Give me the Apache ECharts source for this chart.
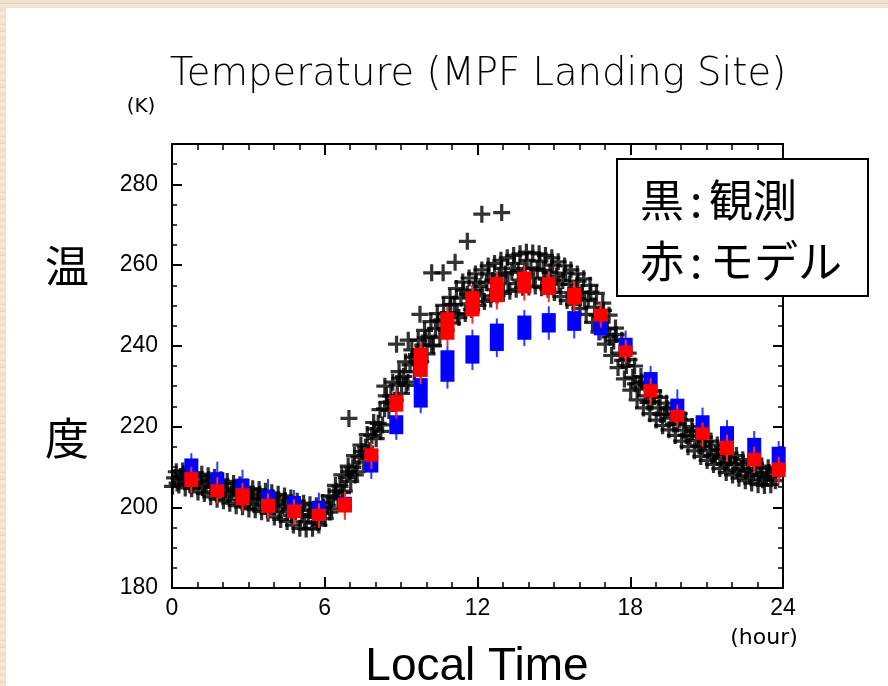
<!DOCTYPE html>
<html><head><meta charset="utf-8">
<script src="https://cdn.jsdelivr.net/npm/echarts@6/dist/echarts.min.js"></script>
<style>
html,body{margin:0;padding:0;width:888px;height:686px;overflow:hidden;
background:#f1e5cf repeating-linear-gradient(0deg,#f3e8d3 0px,#f3e8d3 3px,#e8d3c4 3px,#e8d3c4 4px,#f0e2cb 4px,#f0e2cb 7px);}
#panel{position:absolute;left:6px;top:8px;right:0;bottom:0;background:#fff;}
#chart{position:absolute;left:0;top:0;width:888px;height:686px;}
</style></head><body><div id="panel"></div><div id="chart"></div>
<script>
// ---- data ----
const xTicks = [0, 6, 12, 18, 24];
const yTicks = [180, 200, 220, 240, 260, 280];

// observed temperatures (black +): [local time (hour), K]
const observed = [
[0.02,205.2],[0.1,207.3],[0.17,208.8],[0.27,205.5],[0.33,207.6],[0.42,209.0],
[0.52,204.8],[0.58,206.9],[0.66,208.4],[0.77,204.6],[0.85,206.2],[0.92,208.6],
[1.02,203.8],[1.1,206.4],[1.17,208.2],[1.27,203.4],[1.34,205.9],[1.42,207.8],
[1.52,202.6],[1.6,205.3],[1.67,207.4],[1.77,202.0],[1.85,204.9],[1.92,206.8],
[2.02,201.6],[2.1,204.2],[2.17,206.4],[2.27,201.0],[2.35,203.8],[2.42,205.9],
[2.52,200.4],[2.6,203.4],[2.67,205.6],[2.77,200.1],[2.85,202.8],[2.92,205.0],
[3.02,199.6],[3.1,202.3],[3.17,204.6],[3.27,199.4],[3.35,202.1],[3.42,204.4],
[3.52,198.9],[3.6,201.8],[3.67,204.0],[3.77,198.5],[3.85,201.4],[3.92,203.6],
[4.02,197.6],[4.1,200.8],[4.17,203.2],[4.27,197.0],[4.35,200.3],[4.42,202.8],
[4.52,196.5],[4.6,199.6],[4.67,202.3],[4.77,195.6],[4.85,198.9],[4.92,201.5],
[5.02,194.8],[5.1,198.2],[5.17,201.0],[5.27,194.6],[5.35,197.8],[5.42,200.6],
[5.52,194.8],[5.6,197.6],[5.67,200.4],[5.77,195.6],[5.85,198.4],[5.92,201.2],
[6.02,197.2],[6.1,200.4],[6.17,202.8],[6.27,199.6],[6.35,202.6],[6.42,205.4],
[6.52,202.0],[6.6,205.2],[6.67,208.0],[6.77,204.0],[6.85,207.4],[6.92,210.2],
[7.02,206.4],[7.1,209.8],[7.17,212.8],[7.27,208.8],[7.35,212.4],[7.42,215.4],
[7.52,211.2],[7.6,214.9],[7.67,218.0],[7.77,214.0],[7.85,217.8],[7.92,221.0],
[8.02,217.0],[8.1,220.8],[8.17,224.2],[8.27,220.4],[8.35,224.4],[8.42,227.6],
[8.52,224.0],[8.6,227.6],[8.67,231.0],[8.77,226.4],[8.85,230.3],[8.92,233.6],
[9.02,228.2],[9.1,232.4],[9.17,236.0],[9.27,231.0],[9.35,235.3],[9.42,239.0],
[9.52,233.6],[9.6,237.8],[9.67,241.4],[9.77,236.0],[9.85,240.2],[9.92,243.8],
[10.02,238.0],[10.1,242.4],[10.17,246.0],[10.27,240.0],[10.35,244.3],[10.42,248.0],
[10.52,242.0],[10.6,246.4],[10.67,250.0],[10.77,243.8],[10.85,248.2],[10.92,252.0],
[11.02,245.6],[11.1,250.3],[11.17,254.2],[11.27,247.0],[11.35,251.8],[11.42,255.8],
[11.52,248.0],[11.6,252.8],[11.67,256.8],[11.77,249.0],[11.85,253.7],[11.92,257.8],
[12.02,250.0],[12.1,254.7],[12.17,258.8],[12.27,251.0],[12.35,255.6],[12.42,259.8],
[12.52,251.6],[12.6,256.2],[12.67,260.4],[12.77,252.5],[12.85,257.3],[12.92,261.2],
[13.02,253.0],[13.1,257.8],[13.17,261.8],[13.27,253.5],[13.35,258.2],[13.42,262.4],
[13.52,254.0],[13.6,258.6],[13.67,262.8],[13.77,254.5],[13.85,259.1],[13.92,263.2],
[14.02,254.6],[14.1,259.3],[14.17,263.0],[14.27,254.8],[14.35,259.0],[14.42,262.8],
[14.52,254.4],[14.6,258.7],[14.67,262.4],[14.77,254.0],[14.85,258.2],[14.92,261.8],
[15.02,253.2],[15.1,257.3],[15.17,260.8],[15.27,252.2],[15.35,256.2],[15.42,259.8],
[15.52,251.2],[15.6,255.3],[15.67,258.8],[15.77,250.2],[15.85,254.1],[15.92,257.8],
[16.02,249.2],[16.1,253.2],[16.17,256.6],[16.27,247.8],[16.35,251.6],[16.42,255.0],
[16.52,245.8],[16.6,249.6],[16.67,253.0],[16.77,243.4],[16.85,247.2],[16.92,250.6],
[17.02,240.4],[17.1,244.2],[17.17,247.6],[17.27,237.6],[17.35,241.2],[17.42,244.4],
[17.52,234.6],[17.6,238.2],[17.67,241.4],[17.77,231.8],[17.85,235.1],[17.92,238.2],
[18.02,229.0],[18.1,232.2],[18.17,235.0],[18.27,226.6],[18.35,229.6],[18.42,232.4],
[18.52,224.6],[18.6,227.6],[18.67,230.4],[18.77,223.2],[18.85,226.1],[18.92,228.8],
[19.02,221.6],[19.1,224.6],[19.17,227.2],[19.27,220.2],[19.35,223.1],[19.42,225.8],
[19.52,219.2],[19.6,222.1],[19.67,224.8],[19.77,217.8],[19.85,220.6],[19.92,223.2],
[20.02,216.4],[20.1,219.1],[20.17,221.6],[20.27,215.0],[20.35,217.6],[20.42,220.0],
[20.52,214.0],[20.6,216.6],[20.67,219.0],[20.77,212.6],[20.85,215.1],[20.92,217.4],
[21.02,211.6],[21.1,214.1],[21.17,216.4],[21.27,210.6],[21.35,213.1],[21.42,215.4],
[21.52,209.6],[21.6,212.1],[21.67,214.4],[21.77,208.6],[21.85,211.1],[21.92,213.4],
[22.02,208.0],[22.1,210.6],[22.17,212.8],[22.27,207.2],[22.35,209.6],[22.42,211.8],
[22.52,206.6],[22.6,209.1],[22.67,211.2],[22.77,206.0],[22.85,208.6],[22.92,210.8],
[23.02,205.6],[23.1,208.1],[23.17,210.2],[23.27,205.4],[23.35,207.6],[23.42,209.8],
[23.52,205.6],[23.58,207.6],[23.65,209.4],
[0.2,206.0],[0.45,208.2],[0.7,205.6],[0.95,207.5],[1.2,204.9],[1.45,206.8],
[1.7,203.8],[1.95,205.8],[2.2,202.8],[2.45,204.8],[2.7,201.8],[2.95,203.8],
[3.2,200.8],[3.45,203.2],[3.7,200.2],[3.95,202.3],[4.2,199.0],[4.45,201.6],
[4.7,198.0],[4.95,200.0],[5.2,196.4],[5.45,199.2],[5.7,196.2],[5.95,200.0],
[6.2,198.8],[6.45,204.0],[6.7,203.6],[6.95,208.8],[7.2,208.0],[7.45,213.8],
[7.7,213.0],[7.95,219.4],[8.2,218.8],[8.45,226.0],[8.7,225.8],[8.95,232.0],
[9.2,230.2],[9.45,237.2],[9.7,235.6],[9.95,242.0],[10.2,240.2],[10.45,246.2],
[10.7,244.2],[10.95,250.2],[11.2,247.8],[11.45,253.8],[11.7,250.4],[11.95,255.8],
[12.2,252.4],[12.45,257.8],[12.7,253.9],[12.95,259.2],[13.2,255.4],[13.45,260.4],
[13.7,256.3],[13.95,261.2],[14.2,256.8],[14.45,261.0],[14.7,256.5],[14.95,260.0],
[15.2,255.2],[15.45,258.0],[15.7,253.2],[15.95,256.0],[16.2,251.2],[16.45,253.3],
[16.7,247.6],[16.95,248.8],[17.2,242.2],[17.45,242.8],[17.7,236.4],[17.95,236.6],
[18.2,230.6],[18.45,231.0],[18.7,226.0],[18.95,227.4],[19.2,223.0],[19.45,224.4],
[19.7,220.6],[19.95,221.8],[20.2,217.8],[20.45,218.8],[20.7,215.2],[20.95,216.2],
[21.2,212.8],[21.45,214.2],[21.7,210.8],[21.95,212.2],[22.2,209.2],[22.45,210.6],
[22.7,207.8],[22.95,209.6],[23.2,206.8],[23.45,208.6],[23.7,206.6],
// isolated readings
[6.95,222.0],[8.36,230.0],[8.82,240.4],[9.28,241.4],[9.74,247.8],[10.2,258.1],
[10.65,258.1],[11.12,260.7],[11.6,265.9],[12.17,272.6],[12.95,273.0]
];

// model outputs, one box per hour
const modelHours = [0.76,1.78,2.77,3.77,4.79,5.77,6.79,7.83,8.81,9.77,10.82,11.8,12.76,13.84,14.8,15.8,16.84,17.82,18.8,19.85,20.84,21.8,22.87,23.83];
const blueLow  = [206,204,203,200,198.5,197.5,199,208.6,218.1,224.7,231.1,235.6,238.7,241.5,243.3,243.7,242.6,238,228.5,222,218,214,211,209];
const blueHigh = [212.1,208.7,207.1,204.3,202.8,201.6,202.6,213,222.8,232.0,238.9,242.6,245.5,247.5,248.1,248.6,247.5,242.0,233.5,226.9,222.8,220.1,217.2,215.0];
const blueMin  = [205,203,202,199,197.5,196.5,198,207.0,216.7,223.3,229.4,234.0,237.2,239.9,241.5,241.8,241.4,237,227.5,221,217,213,210,208];
const blueMax  = [213.4,211.3,209.3,207.0,204.3,203.6,203.2,214,224,233,240,244,246.8,248.9,249.8,249.5,248,243.8,235.0,229.2,224.7,221.6,218.9,216.4];
const redLow   = [205.0,202.5,200.5,198.6,197.3,196.6,198.7,211.3,223.7,232.3,241.5,247.3,250.8,253.0,252.6,250.2,246.0,237.2,227.2,221.2,216.7,212.9,210.1,207.5];
const redHigh  = [208.7,205.7,204.7,202.1,200.7,199.6,202.4,214.6,227.8,239.5,248.3,253.5,257.0,258.4,257.0,254.4,249.2,240.1,230.5,224.1,219.8,216.5,213.5,211.1];
const redMin   = [203.5,201.0,199.0,197.2,195.7,194.9,196.9,209.5,222,230.5,240,245.5,249,251.2,250.8,248.5,244.5,235.8,225.5,219.8,215.0,211.3,208.5,205.9];
const redMax   = [210,207.5,206,203.5,202,201,203.9,216.0,229.2,240.9,249.8,255,258.4,259.9,258.5,256.0,250.8,241.5,232,225.5,221,218,215,212.5];

// ---- build ----
const zip = (lo, hi, mn, mx) => modelHours.map((h, i) => [h, lo[i], hi[i], mn[i], mx[i]]);
const blueData = zip(blueLow, blueHigh, blueMin, blueMax);
const redData = zip(redLow, redHigh, redMin, redMax);

function boxRenderer(fill, whisker) {
  return function (params, api) {
    const x = api.value(0);
    const top = api.coord([x, api.value(2)]);
    const bot = api.coord([x, api.value(1)]);
    const wTop = api.coord([x, api.value(4)]);
    const wBot = api.coord([x, api.value(3)]);
    const half = api.size([0.55, 0])[0] / 2;
    return {
      type: 'group',
      children: [
        { type: 'line', shape: { x1: wTop[0], y1: wTop[1], x2: wBot[0], y2: wBot[1] },
          style: { stroke: whisker, lineWidth: 2 } },
        { type: 'rect', shape: { x: top[0] - half, y: top[1], width: half * 2, height: bot[1] - top[1] },
          style: { fill: fill } }
      ]
    };
  };
}

const thin = "'DejaVu Sans ExtraLight','DejaVu Sans',sans-serif";
const cjk = "'Noto Sans CJK JP','Noto Sans CJK SC',sans-serif";
const plusPath = 'path://M0,4.05H4.05V0H5.95V4.05H10V5.95H5.95V10H4.05V5.95H0Z';

const axisLine = { show: true, onZero: false, lineStyle: { color: '#000', width: 2 } };
const xCommon = {
  type: 'value', min: 0, max: 24, interval: 6,
  axisLine: axisLine,
  axisTick: { show: true, inside: true, length: 11, lineStyle: { color: '#000', width: 2 } },
  minorTick: { show: true, splitNumber: 6, length: 6, lineStyle: { color: '#000', width: 1.5 } },
  splitLine: { show: false }, minorSplitLine: { show: false }
};
function yAxisDef(pos, step, len, labels) {
  return {
    type: 'value', min: 180, max: 290, interval: step, position: pos,
    axisLine: axisLine,
    axisTick: { show: true, inside: true, length: len, lineStyle: { color: '#000', width: step === 20 ? 2 : 1.5 } },
    splitLine: { show: false },
    axisLabel: labels ? {
      show: true, color: '#000', fontSize: 23, fontFamily: "'Liberation Sans',Arial,sans-serif", margin: 14,
      formatter: v => (yTicks.indexOf(v) >= 0 ? String(v) : '')
    } : { show: false }
  };
}

const chart = echarts.init(document.getElementById('chart'));
chart.setOption({
  backgroundColor: 'transparent',
  animation: false,
  title: {
    text: 'Temperature (MPF Landing Site)',
    left: 473, top: 50, textAlign: 'center',
    textStyle: { fontFamily: thin, fontWeight: 200, fontSize: 38.6, color: '#000' }
  },
  grid: { left: 172, top: 144, width: 611, height: 444, outerBoundsMode: 'none' },
  xAxis: [
    Object.assign({}, xCommon, { position: 'bottom',
      axisLabel: { show: true, color: '#000', fontSize: 23, margin: 9,
        fontFamily: "'Liberation Sans Narrow','Liberation Sans',Arial,sans-serif",
        formatter: v => (xTicks.indexOf(v) >= 0 ? String(v) : '') } }),
    Object.assign({}, xCommon, { position: 'top', axisLabel: { show: false } })
  ],
  yAxis: [
    yAxisDef('left', 5, 5, false),
    yAxisDef('left', 20, 10, true),
    yAxisDef('right', 5, 5, false),
    yAxisDef('right', 20, 10, false)
  ],
  series: [
    { name: '観測', type: 'scatter', xAxisIndex: 0, yAxisIndex: 0, data: observed,
      symbol: plusPath, symbolSize: 17, itemStyle: { color: '#000' }, silent: true, z: 2 },
    { name: 'blue', type: 'custom', xAxisIndex: 0, yAxisIndex: 0, data: blueData,
      renderItem: boxRenderer('#0000ff', '#2a3cff'), silent: true, z: 3 },
    { name: 'モデル', type: 'custom', xAxisIndex: 0, yAxisIndex: 0, data: redData,
      renderItem: boxRenderer('#ff0000', '#ff2a2a'), silent: true, z: 4 }
  ],
  graphic: [
    { type: 'text', z: 50, style: { text: '(K)', x: 141, y: 107, align: 'center', verticalAlign: 'middle',
        fontFamily: "'DejaVu Sans',sans-serif", fontSize: 20, fill: '#000' } },
    { type: 'text', z: 50, style: { text: '(hour)', x: 764, y: 638, align: 'center', verticalAlign: 'middle',
        fontFamily: "'DejaVu Sans',sans-serif", fontSize: 22, fill: '#000' } },
    { type: 'text', z: 50, style: { text: 'Local Time', x: 477, y: 667, align: 'center', verticalAlign: 'middle',
        fontFamily: "'Liberation Sans',Arial,sans-serif", fontSize: 46, fill: '#000' } },
    { type: 'text', z: 50, style: { text: '温', x: 67, y: 266, align: 'center', verticalAlign: 'middle',
        fontFamily: cjk, fontSize: 44, fill: '#000' } },
    { type: 'text', z: 50, style: { text: '度', x: 67, y: 438, align: 'center', verticalAlign: 'middle',
        fontFamily: cjk, fontSize: 44, fill: '#000' } },
    { type: 'rect', z: 100, shape: { x: 617, y: 159, width: 251, height: 137 },
      style: { fill: '#fff', stroke: '#000', lineWidth: 2 } },
    { type: 'text', z: 101, style: { text: '黒', x: 640, y: 200, verticalAlign: 'middle', fontFamily: cjk, fontSize: 44, fill: '#000' } },
    { type: 'text', z: 101, style: { text: ':', x: 696, y: 200, align: 'center', verticalAlign: 'middle', fontFamily: cjk, fontSize: 44, fill: '#000' } },
    { type: 'text', z: 101, style: { text: '観測', x: 709, y: 200, verticalAlign: 'middle', fontFamily: cjk, fontSize: 44, fill: '#000' } },
    { type: 'text', z: 101, style: { text: '赤', x: 640, y: 261, verticalAlign: 'middle', fontFamily: cjk, fontSize: 44, fill: '#000' } },
    { type: 'text', z: 101, style: { text: ':', x: 696, y: 261, align: 'center', verticalAlign: 'middle', fontFamily: cjk, fontSize: 44, fill: '#000' } },
    { type: 'text', z: 101, style: { text: 'モデル', x: 710, y: 261, verticalAlign: 'middle', fontFamily: cjk, fontSize: 44, fill: '#000' } }
  ]
});
</script></body></html>
